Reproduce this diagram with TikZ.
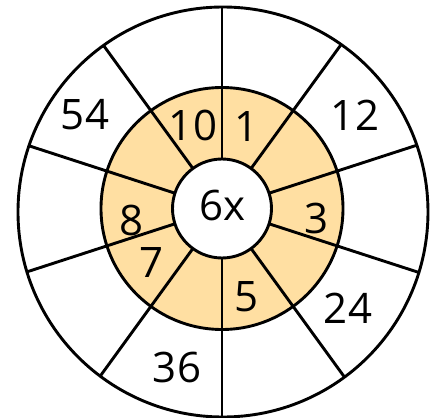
\documentclass[tikz,border=0pt]{standalone}
\usepackage{fontspec}
\setmainfont{Open Sans}
\usepackage{xcolor}
\definecolor{ringFill}{HTML}{FFDFA2}
\usetikzlibrary{positioning}
\tikzset{
	wheelline/.style={draw=black, line width=2.9pt},
	numlabel/.style={font=\fontsize{42}{44}\selectfont, inner sep=0pt},
}
\begin{document}
\begin{tikzpicture}[x=1pt, y=1pt]
		\useasboundingbox (-222,-209.5) rectangle (218,208.5);

		% outer wheel
		\coordinate (oc) at (1,-3.5);
		\fill[white] (oc) circle (205);

		% orange ring
		\fill[ringFill] (0,0) circle (121);

		% spokes, clipped to the outer wheel
		\begin{scope}
			\clip (oc) circle (205);
			\foreach \ang in {90,54,...,-234}
				\draw[wheelline] (\ang:49) -- (\ang:230);
		\end{scope}

		\draw[wheelline] (oc) circle (205);
		\draw[wheelline] (0,0) circle (121);
		\node[wheelline, circle, fill=white, minimum size=99pt, inner sep=0pt] (hub) at (0,0) {};
		\node[numlabel] (times) at (0.5,3.5) {6x};

		% inner ring numbers
		\node[numlabel] (n1) at (25,81.5) {1};
		\node[numlabel] (n10) at (-29,83.5) {10};
		\node[numlabel] (n3) at (95,-9.5) {3};
		\node[numlabel] (n5) at (25,-88.5) {5};
		\node[numlabel] (n7) at (-70,-54.5) {7};
		\node[numlabel] (n8) at (-90,-11.5) {8};

		% outer ring answers
		\node[numlabel] (a12) at (133,93.5) {12};
		\node[numlabel] (a54) at (-137,93.5) {54};
		\node[numlabel] (a24) at (126,-99.5) {24};
		\node[numlabel] (a36) at (-45,-158.5) {36};
	\end{tikzpicture}
\end{document}
